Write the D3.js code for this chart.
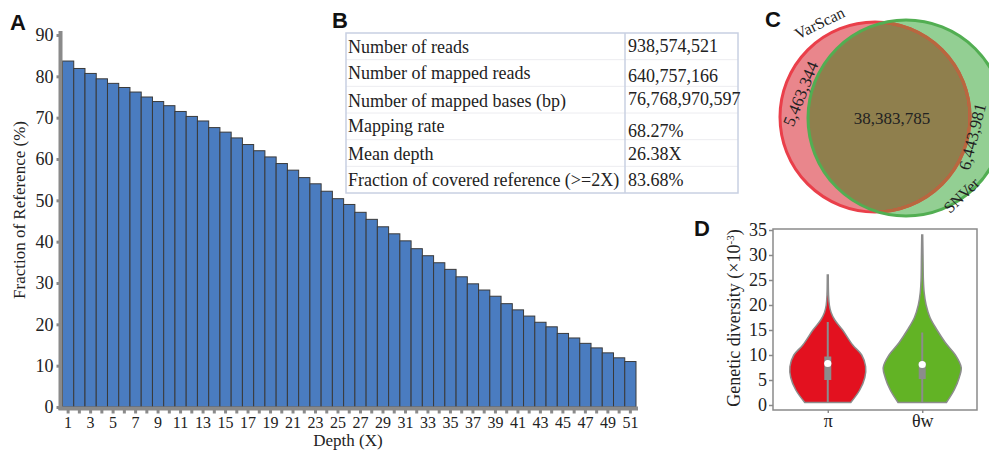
<!DOCTYPE html>
<html>
<head>
<meta charset="utf-8">
<script src="https://cdn.jsdelivr.net/npm/d3@7"></script>
<style>
  body { margin: 0; background: #fff; }
  svg { display: block; }
  text { font-family: "Liberation Serif", "Times New Roman", serif; fill: #222; }
  .panel { font-family: "Liberation Sans", Arial, sans-serif; font-weight: bold; font-size: 22px; fill: #111; }
</style>
</head>
<body>
<div id="chart"></div>
<script>
// A: fraction of reference covered at each depth
const depths = d3.range(1, 52);
const coverage = [83.7, 81.9, 80.7, 79.4, 78.3, 77.3, 76.2, 75.0, 73.9, 72.9,
  71.5, 70.3, 69.2, 67.6, 66.5, 65.1, 63.5, 62.0, 60.5, 58.9,
  57.3, 55.5, 54.0, 52.2, 50.4, 49.0, 47.1, 45.4, 43.6, 41.9,
  40.2, 38.3, 36.6, 34.9, 33.3, 31.5, 29.8, 28.3, 26.8, 25.0,
  23.5, 22.0, 20.5, 19.4, 17.8, 16.7, 15.4, 14.3, 13.1, 11.9, 11.0];
const coverageTicks = [0, 10, 20, 30, 40, 50, 60, 70, 80, 90];

// B: mapping summary
const tableLabels = ["Number of reads", "Number of mapped reads", "Number of mapped bases (bp)",
  "Mapping rate", "Mean depth", "Fraction of covered reference (>=2X)"];
const tableValues = ["938,574,521", "640,757,166", "76,768,970,597", "68.27%", "26.38X", "83.68%"];

// C: SNP callers overlap
const vennSets = ["VarScan", "SNVer"];
const vennCounts = [5463344, 38383785, 6443981]; // VarScan only, both, SNVer only

// D: genetic diversity violins (value x10^-3, relative density)
const groups = ["π", "θw"];
const piDensity = [[0.5, .59], [3, .82], [5.5, .95], [7.7, .97], [10, .87], [12, .64],
  [15, .38], [17, .18], [18.5, .085], [20, .04], [22, .02], [26, .012]];
const thetaDensity = [[0.5, .62], [3, .82], [5.5, .95], [7.5, 1], [10, .85], [12.5, .59],
  [15, .38], [17.5, .2], [20, .1], [22.5, .05], [25, .03], [30, .02], [34, .012]];
const boxStats = [
  { min: 0.5, q1: 5.0, median: 8.3, q3: 9.7, max: 16.6 },
  { min: 0.5, q1: 5.2, median: 8.1, q3: 8.6, max: 14.5 }
];
const diversityTicks = [0, 5, 10, 15, 20, 25, 30, 35];

const serif = "'Liberation Serif', 'Times New Roman', serif";
const svg = d3.select("#chart").append("svg")
  .attr("width", 989)
  .attr("height", 452);

const axisGray = "#8a8a8a";

// style axis text the same way everywhere
function styleTicks(g, size) {
  g.attr("font-family", serif);
  g.selectAll(".tick text")
    .attr("font-family", serif)
    .style("font-family", serif)
    .style("font-size", size + "px")
    .attr("fill", "#222");
}

// ---------- A ----------
const x = d3.scaleBand().domain(depths).range([62.5, 636]).padding(0);
const y = d3.scaleLinear().domain([0, 90]).range([407, 35]);

svg.append("text").attr("class", "panel").attr("x", 10).attr("y", 30).text("A");

svg.append("g")
  .selectAll("rect")
  .data(coverage)
  .join("rect")
  .attr("x", (d, i) => x(depths[i]))
  .attr("y", (d) => y(d))
  .attr("width", x.bandwidth())
  .attr("height", (d) => y(0) - y(d))
  .attr("fill", "#4a7cc0")
  .attr("stroke", "#3a3a3a")
  .attr("stroke-width", 1);

const yAxisA = svg.append("g")
  .attr("transform", "translate(60.5,0)")
  .call(d3.axisLeft(y).tickValues(coverageTicks).tickSize(4).tickPadding(3).tickSizeOuter(0));
yAxisA.select(".domain").attr("stroke", axisGray).attr("stroke-width", 4)
  .attr("d", `M0,${y(0) + 3}V${y(90) - 4}`);
yAxisA.selectAll(".tick line").attr("stroke", axisGray).attr("stroke-width", 3);
styleTicks(yAxisA, 18);

const xAxisA = svg.append("g")
  .attr("transform", `translate(0,${y(0) + 1.5})`)
  .call(d3.axisBottom(x).tickSize(5).tickPadding(3).tickSizeOuter(0)
    .tickFormat((d) => (d % 2 ? d : "")));
xAxisA.select(".domain").attr("stroke", axisGray).attr("stroke-width", 4)
  .attr("d", "M58.5,0H638");
xAxisA.selectAll(".tick line").attr("stroke", axisGray).attr("stroke-width", 3);
styleTicks(xAxisA, 16);

svg.append("text")
  .attr("x", 348).attr("y", 446)
  .attr("text-anchor", "middle")
  .style("font-size", "17px")
  .text("Depth (X)");

svg.append("text")
  .attr("transform", "translate(25,210) rotate(-90)")
  .attr("text-anchor", "middle")
  .style("font-size", "17px")
  .text("Fraction of Reference (%)");

// ---------- B ----------
svg.append("text").attr("class", "panel").attr("x", 332).attr("y", 28).text("B");

const tbl = { left: 346, right: 738, top: 33, bottom: 193, split: 625 };
const rowY = d3.scaleBand().domain(d3.range(tableLabels.length)).range([tbl.top, tbl.bottom]);

svg.append("g")
  .selectAll("line")
  .data(d3.range(1, tableLabels.length))
  .join("line")
  .attr("x1", tbl.left).attr("x2", tbl.right)
  .attr("y1", (d) => rowY(d)).attr("y2", (d) => rowY(d))
  .attr("stroke", "#ececf0").attr("stroke-width", 1);

svg.append("rect")
  .attr("x", tbl.left).attr("y", tbl.top)
  .attr("width", tbl.right - tbl.left).attr("height", tbl.bottom - tbl.top)
  .attr("fill", "none").attr("stroke", "#c8d0e2").attr("stroke-width", 1.5);
svg.append("line")
  .attr("x1", tbl.split).attr("x2", tbl.split)
  .attr("y1", tbl.top).attr("y2", tbl.bottom)
  .attr("stroke", "#c8d0e2").attr("stroke-width", 1.5);

const labelShift = [0, -1, 1, -1, 0, 0];
const valueShift = [-1, 2, -1, 4, 0, 0];
svg.append("g")
  .selectAll("text")
  .data(tableLabels)
  .join("text")
  .attr("x", tbl.left + 2)
  .attr("y", (d, i) => rowY(i) + 20 + labelShift[i])
  .style("font-size", "18px")
  .text((d) => d);
svg.append("g")
  .selectAll("text")
  .data(tableValues)
  .join("text")
  .attr("x", tbl.split + 3)
  .attr("y", (d, i) => rowY(i) + 20 + valueShift[i])
  .style("font-size", "18px")
  .text((d) => d);

// ---------- C ----------
svg.append("text").attr("class", "panel").attr("x", 765).attr("y", 27).text("C");

const fmt = d3.format(",");
const red = { cx: 875, cy: 117, r: 95 };
const green = { cx: 906, cy: 118, r: 98 };
const defs = svg.append("defs");
defs.append("clipPath").attr("id", "clipRed")
  .append("circle").attr("cx", red.cx).attr("cy", red.cy).attr("r", red.r);
defs.append("clipPath").attr("id", "clipGreen")
  .append("circle").attr("cx", green.cx).attr("cy", green.cy).attr("r", green.r);

const venn = svg.append("g");
venn.append("circle").attr("cx", red.cx).attr("cy", red.cy).attr("r", red.r).attr("fill", "#e9868c");
venn.append("circle").attr("cx", green.cx).attr("cy", green.cy).attr("r", green.r).attr("fill", "#93cf93");
venn.append("circle").attr("cx", green.cx).attr("cy", green.cy).attr("r", green.r)
  .attr("clip-path", "url(#clipRed)").attr("fill", "#8f7f4d");
venn.append("circle").attr("cx", red.cx).attr("cy", red.cy).attr("r", red.r)
  .attr("fill", "none").attr("stroke", "#ea3f4a").attr("stroke-width", 3);
venn.append("circle").attr("cx", red.cx).attr("cy", red.cy).attr("r", red.r)
  .attr("clip-path", "url(#clipGreen)")
  .attr("fill", "none").attr("stroke", "#b8683e").attr("stroke-width", 3);
venn.append("circle").attr("cx", green.cx).attr("cy", green.cy).attr("r", green.r)
  .attr("fill", "none").attr("stroke", "#52ae52").attr("stroke-width", 3);

venn.append("text").attr("x", 892).attr("y", 124).attr("text-anchor", "middle")
  .style("font-size", "17px").text(fmt(vennCounts[1]));
venn.append("text").attr("transform", "translate(806,96) rotate(-68)").attr("text-anchor", "middle")
  .style("font-size", "17px").text(fmt(vennCounts[0]));
venn.append("text").attr("transform", "translate(978,138) rotate(-76)").attr("text-anchor", "middle")
  .style("font-size", "17px").text(fmt(vennCounts[2]));
venn.append("text").attr("transform", "translate(822,28) rotate(-26)").attr("text-anchor", "middle")
  .style("font-size", "16px").text(vennSets[0]);
venn.append("text").attr("transform", "translate(950,214) rotate(-44)").attr("text-anchor", "start")
  .style("font-size", "16px").text(vennSets[1]);

// ---------- D ----------
svg.append("text").attr("class", "panel").attr("x", 694).attr("y", 236).text("D");

const frame = { left: 773, right: 977, top: 229, bottom: 410 };
const yD = d3.scaleLinear().domain([0, 35]).range([405, 230]);
const xD = d3.scalePoint().domain(groups).range([frame.left, frame.right]).padding(0.58);
const w = d3.scaleLinear().domain([0, 1]).range([0, 39]);

svg.append("rect")
  .attr("x", frame.left).attr("y", frame.top)
  .attr("width", frame.right - frame.left).attr("height", frame.bottom - frame.top)
  .attr("fill", "none").attr("stroke", axisGray).attr("stroke-width", 1.5);

const yAxisD = svg.append("g")
  .attr("transform", `translate(${frame.left},0)`)
  .call(d3.axisLeft(yD).tickValues(diversityTicks).tickSize(4).tickPadding(2).tickSizeOuter(0));
yAxisD.select(".domain").remove();
yAxisD.selectAll(".tick line").attr("stroke", axisGray).attr("stroke-width", 1.5);
styleTicks(yAxisD, 18);

const xAxisD = svg.append("g")
  .attr("transform", `translate(0,${frame.bottom})`)
  .call(d3.axisBottom(xD).tickSize(3).tickPadding(1).tickSizeOuter(0));
xAxisD.select(".domain").remove();
xAxisD.selectAll(".tick line").attr("stroke", axisGray).attr("stroke-width", 1.5);
styleTicks(xAxisD, 18);

const ylab = svg.append("text")
  .attr("transform", "translate(740,318) rotate(-90)")
  .attr("text-anchor", "middle")
  .style("font-size", "18px");
ylab.append("tspan").text("Genetic diversity (×10");
ylab.append("tspan").attr("dy", -6).style("font-size", "11px").text("-3");
ylab.append("tspan").attr("dy", 6).text(")");

const violinColors = ["#e3111f", "#62b325"];
[piDensity, thetaDensity].forEach((dens, i) => {
  const cx = xD(groups[i]);
  const area = d3.area()
    .y((d) => yD(d[0]))
    .x0((d) => cx - w(d[1]))
    .x1((d) => cx + w(d[1]))
    .curve(d3.curveCatmullRom);
  svg.append("path")
    .datum(dens)
    .attr("d", area)
    .attr("fill", violinColors[i])
    .attr("stroke", "#8c8c8c")
    .attr("stroke-width", 1.5);

  const s = boxStats[i];
  svg.append("line")
    .attr("x1", cx).attr("x2", cx)
    .attr("y1", yD(s.min)).attr("y2", yD(s.max))
    .attr("stroke", "#8c8c8c").attr("stroke-width", 2);
  svg.append("rect")
    .attr("x", cx - 3.5).attr("width", 7)
    .attr("y", yD(s.q3)).attr("height", yD(s.q1) - yD(s.q3))
    .attr("fill", "#8c8c8c");
  svg.append("circle")
    .attr("cx", cx).attr("cy", yD(s.median)).attr("r", 3.6)
    .attr("fill", "#fff");
});
</script>
</body>
</html>
